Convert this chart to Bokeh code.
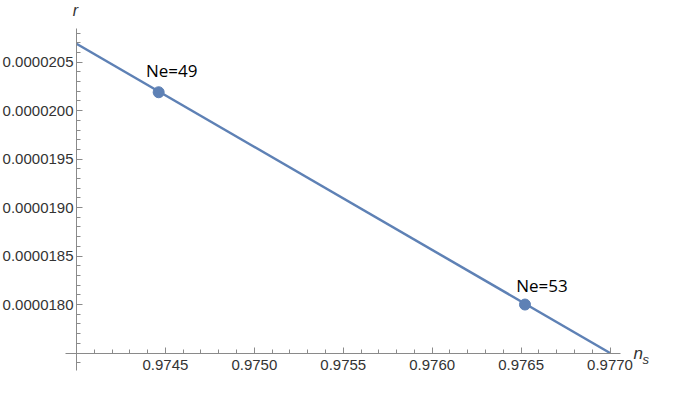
from bokeh.plotting import figure
from bokeh.models import Range1d, LinearAxis, FixedTicker, ColumnDataSource, Label
from bokeh.embed import file_html
from bokeh.resources import INLINE

# ---- data ----
ns_line = [0.97400, 0.97700]
r_line = [0.00002069, 0.00001750]
ns_pts = [0.974462, 0.976522]
r_pts = [0.00002019, 0.00001800]
pt_labels = ["Ne=49", "Ne=53"]

x_ticks = [0.9745, 0.9750, 0.9755, 0.9760, 0.9765, 0.9770]
x_tick_labels = ["0.9745", "0.9750", "0.9755", "0.9760", "0.9765", "0.9770"]
y_ticks = [0.0000180, 0.0000185, 0.0000190, 0.0000195, 0.0000200, 0.0000205]
y_tick_labels = ["0.0000180", "0.0000185", "0.0000190", "0.0000195", "0.0000200", "0.0000205"]
x_origin = 0.9740
y_origin = 0.0000175

# ---- layout mapping (picture pixels -> data) ----
W, H = 666, 382
PX0, PX1 = 76.0, 609.5        # picture x of 0.9740 and 0.9770
PY0, PY1 = 352.5, 61.7        # picture y of 0.0000175 and 0.0000205
SX = (PX1 - PX0) / (0.9770 - 0.9740)
SY = (PY0 - PY1) / (0.0000205 - 0.0000175)

def dx(px):
    return x_origin + (px - PX0) / SX

def dy(py):
    return y_origin + (PY0 - py) / SY

p = figure(width=W, height=H, output_backend="svg", toolbar_location=None,
           x_range=Range1d(dx(0), dx(W)), y_range=Range1d(dy(H), dy(0)),
           x_axis_type=None, y_axis_type=None, min_border=0)
p.outline_line_color = None
p.background_fill_color = "white"
p.border_fill_color = "white"

axis_color = "#8a8a8a"
label_color = "#333333"

x_minor = [round(0.9740 + i * 0.0001, 4) for i in range(1, 31)]
x_minor = [v for v in x_minor if v not in x_ticks]
y_minor = [round(0.0000174 + i * 0.0000001, 8) for i in range(0, 35)]
y_minor = [v for v in y_minor if v not in y_ticks and abs(v - y_origin) > 1e-9]

xaxis = LinearAxis(fixed_location=y_origin,
                   ticker=FixedTicker(ticks=x_ticks, minor_ticks=x_minor),
                   major_label_overrides={t: s for t, s in zip(x_ticks, x_tick_labels)},
                   bounds=(dx(65), dx(620)))
yaxis = LinearAxis(fixed_location=x_origin,
                   ticker=FixedTicker(ticks=y_ticks, minor_ticks=y_minor),
                   major_label_overrides={t: s for t, s in zip(y_ticks, y_tick_labels)},
                   bounds=(dy(370), dy(28)))
for ax in (xaxis, yaxis):
    ax.axis_line_color = axis_color
    ax.axis_line_width = 1
    ax.major_tick_line_color = axis_color
    ax.minor_tick_line_color = axis_color
    ax.major_tick_in = 6
    ax.major_tick_out = 0
    ax.minor_tick_in = 4
    ax.minor_tick_out = 0
    ax.major_label_text_font = "Liberation Sans"
    ax.major_label_text_font_size = "15px"
    ax.major_label_text_color = label_color
xaxis.major_label_standoff = 7
yaxis.major_label_standoff = 3
p.add_layout(xaxis, "below")
p.add_layout(yaxis, "left")

blue = "#5E81B5"
p.line(ns_line, r_line, line_color=blue, line_width=2.5)
src = ColumnDataSource(dict(x=ns_pts, y=r_pts, t=pt_labels))
p.scatter("x", "y", source=src, size=11, fill_color=blue, line_color=blue)

label_dx = [13, 17]
label_dy = [22, 19]
for x, y, t, ox, oy in zip(ns_pts, r_pts, pt_labels, label_dx, label_dy):
    p.add_layout(Label(x=x, y=y, text=t, x_offset=ox, y_offset=oy,
                       text_align="center", text_baseline="alphabetic",
                       text_font="Open Sans", text_font_size="17px", text_color="black"))

# axis titles
p.add_layout(Label(x=dx(75), y=dy(10), text="r", text_align="center",
                   text_baseline="alphabetic", text_font="Liberation Sans",
                   text_font_style="italic", text_font_size="16px", text_color=label_color))
p.add_layout(Label(x=dx(633), y=dy(353), text="n", text_align="left",
                   text_baseline="alphabetic", text_font="Liberation Sans",
                   text_font_style="italic", text_font_size="17px", text_color=label_color))
p.add_layout(Label(x=dx(642), y=dy(359), text="s", text_align="left",
                   text_baseline="alphabetic", text_font="Liberation Sans",
                   text_font_style="italic", text_font_size="13px", text_color=label_color))

open("out.html", "w").write(file_html(p, INLINE))
